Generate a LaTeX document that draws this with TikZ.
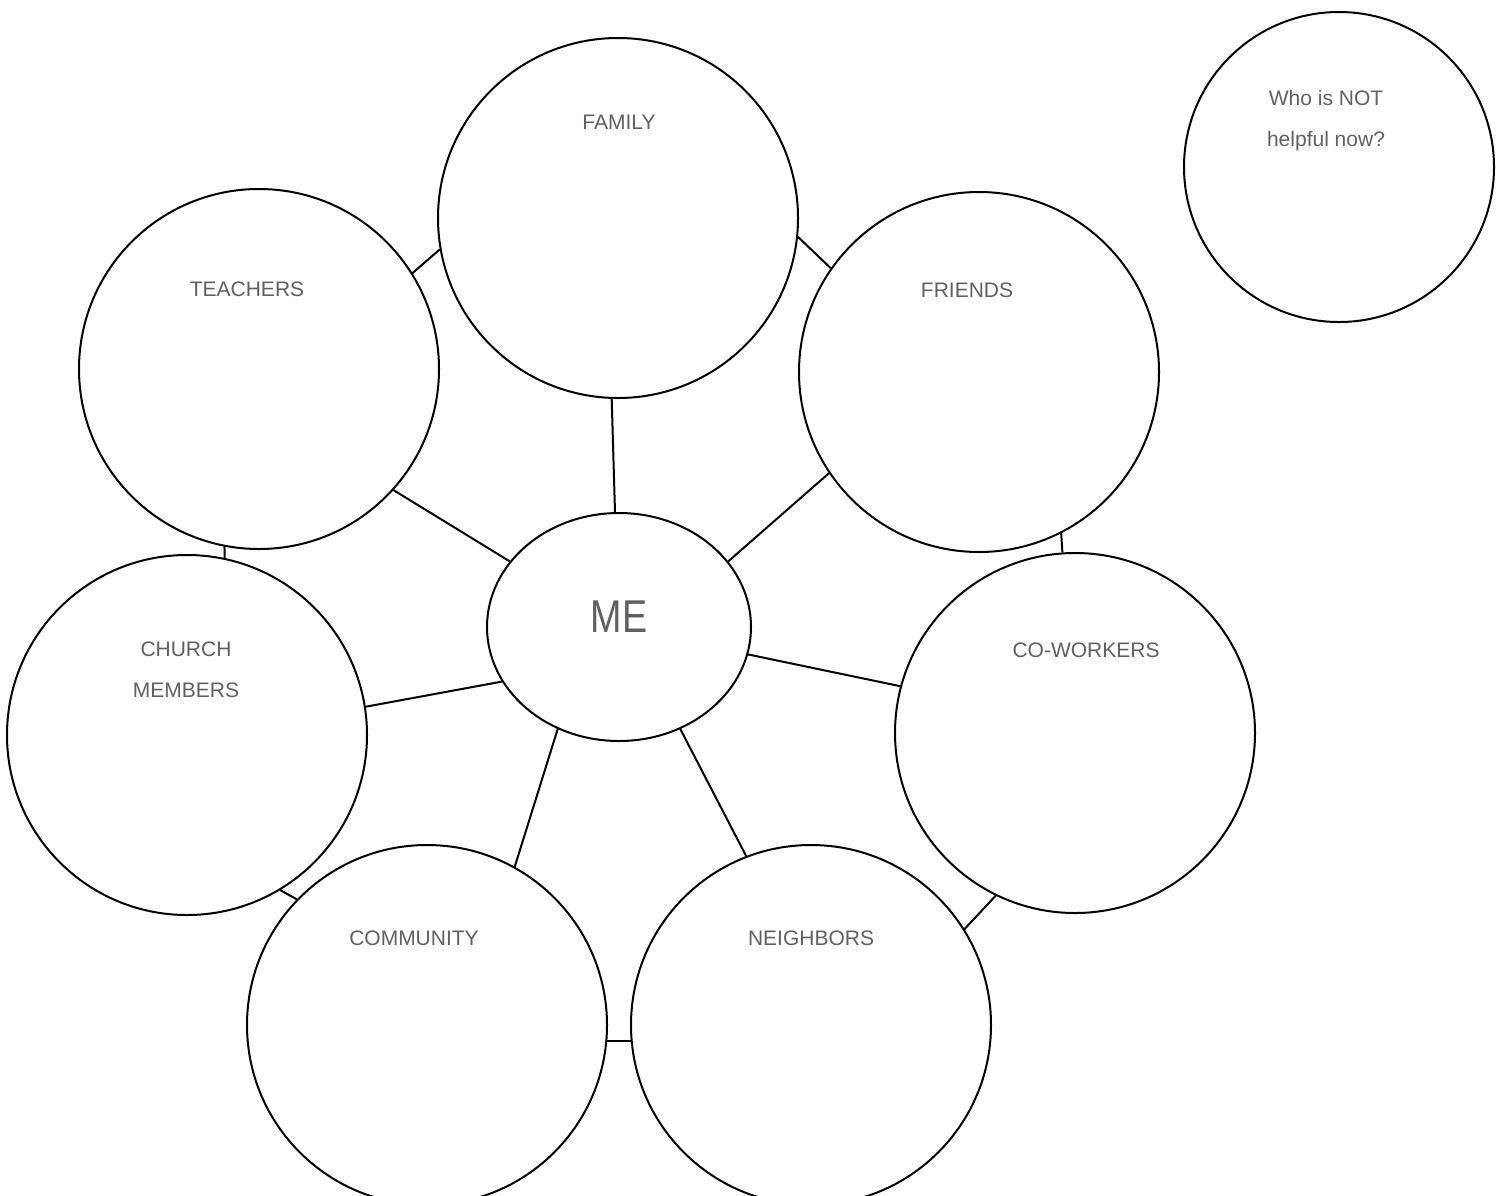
\documentclass[tikz,border=0pt]{standalone}
\usepackage{fontspec}
\setmainfont{Liberation Sans}
\usepackage{graphicx}
\usetikzlibrary{shapes.geometric}
\definecolor{labelgray}{HTML}{606060}
\tikzset{
  bubble/.style={draw=black, line width=1pt, circle, minimum size=180pt, inner sep=0pt},
  lbl/.style={text=labelgray, font=\fontsize{10.5}{20.5}\selectfont, align=center, inner sep=0pt},
  link/.style={line width=1pt}
}

\begin{document}
\begin{tikzpicture}[x=0.5pt,y=-0.5pt]
\useasboundingbox (0,0) rectangle (1502,1195);
\clip (0,0) rectangle (1502,1195);
% centre
\node[ellipse, draw=black, line width=1pt, minimum width=132pt, minimum height=114pt, inner sep=0pt] (me) at (619,627) {};
\node[text=labelgray, font=\fontsize{23}{23}\selectfont, inner sep=0pt] (metext) at (619,617) {\scalebox{0.82}[1]{ME}};
% circles round it
\node[bubble] (family) at (618,218) {};
\node[bubble] (teachers) at (259,369) {};
\node[bubble] (friends) at (979,372) {};
\node[bubble] (church) at (187,735) {};
\node[bubble] (coworkers) at (1075,733) {};
\node[bubble] (community) at (427,1025) {};
\node[bubble] (neighbors) at (811,1025) {};
\node[bubble, minimum size=155pt] (nothelp) at (1339,167) {};
% texts
\node[lbl] (familytext) at (619,122) {FAMILY};
\node[lbl] (teacherstext) at (247,289) {TEACHERS};
\node[lbl] (friendstext) at (967,290) {FRIENDS};
\node[lbl] (churchtext) at (186,670) {CHURCH\\MEMBERS};
\node[lbl] (coworkerstext) at (1086,650) {CO-WORKERS};
\node[lbl] (communitytext) at (414,938) {COMMUNITY};
\node[lbl] (neighborstext) at (811,938) {NEIGHBORS};
\node[lbl] (nothelptext) at (1326,121) {Who is NOT\\helpful now?};
% spokes to ME
\draw[link] (family.268) -- (me.92);
\draw[link] (teachers.-42) -- (me.149);
\draw[link] (friends.214) -- (me.31);
\draw[link] (church.9) -- (me.205);
\draw[link] (coworkers.165) -- (me.-12);
\draw[link] (community.61) -- (me.239);
\draw[link] (neighbors.111) -- (me.-59);
% ring
\draw[link] (teachers.32) -- (family.190);
\draw[link] (family.-6) -- (friends.145);
\draw[link] (teachers.259) -- (church.78);
\draw[link] (friends.297) -- (coworkers.94);
\draw[link] (church.301) -- (community.136);
\draw[link] (coworkers.244) -- (neighbors.32);
\draw[link] (community.-5) -- (neighbors.185);
\end{tikzpicture}
\end{document}
